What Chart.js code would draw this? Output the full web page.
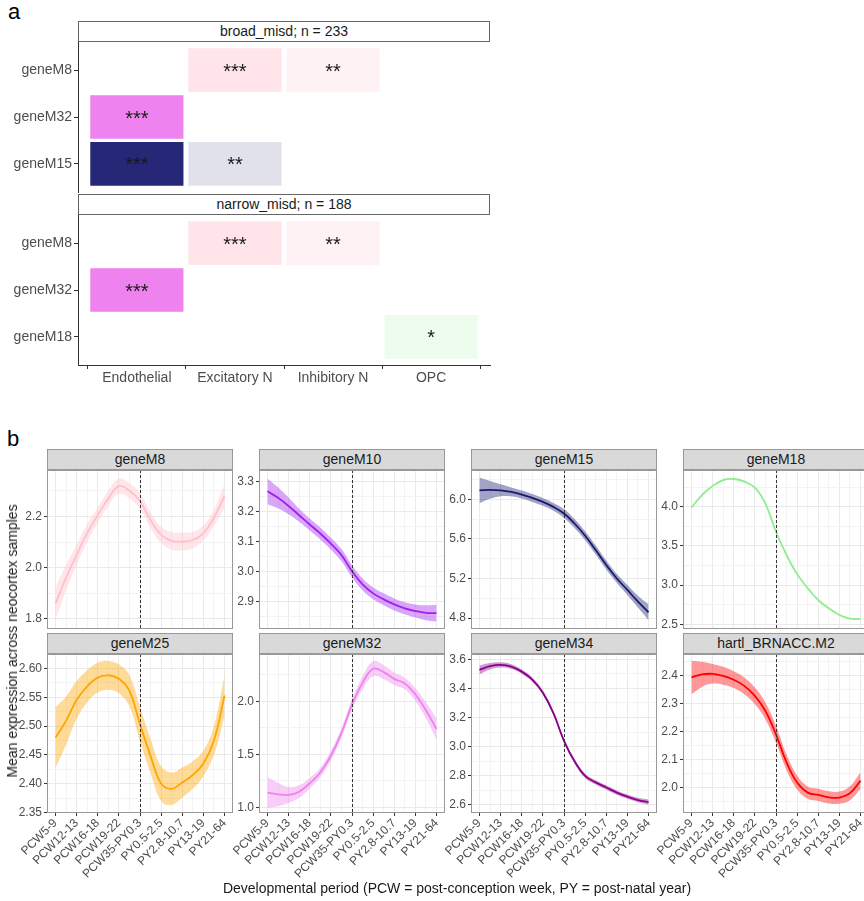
<!DOCTYPE html>
<html>
<head>
<meta charset="utf-8">
<script src="https://cdn.jsdelivr.net/npm/chart.js@4.4.1/dist/chart.umd.min.js"></script>
<style>
  body { margin: 0; width: 864px; height: 901px; overflow: hidden; background: #fff; position: relative;
         font-family: "Liberation Sans", Arial, sans-serif; }
  canvas, .strip, .txt { position: absolute; }
  .strip { box-sizing: border-box; text-align: center; font-size: 14px; color: #1A1A1A; }
  .txt { white-space: nowrap; color: #1A1A1A; }
</style>
</head>
<body>
<script>
// ---- panel a: enrichment tiles ----
const cellTypes = ['Endothelial', 'Excitatory N', 'Inhibitory N', 'OPC'];

const broadModules = ['geneM8', 'geneM32', 'geneM15'];
const broadRow = [0, 0, 1, 2, 2];
const broadCol = [1, 2, 0, 0, 1];
const broadStars = ['***', '**', '***', '***', '**'];
const broadEffect = [0.42, 0.2, 1, 0.94, 0.13];

const narrowModules = ['geneM8', 'geneM32', 'geneM18'];
const narrowRow = [0, 0, 1, 2];
const narrowCol = [1, 2, 0, 3];
const narrowStars = ['***', '**', '***', '*'];
const narrowEffect = [0.42, 0.2, 1, 0.15];

// ---- panel b: developmental trajectories ----
const periods = ['PCW5-9', 'PCW12-13', 'PCW16-18', 'PCW19-22', 'PCW35-PY0.3',
                 'PY0.5-2.5', 'PY2.8-10.7', 'PY13-19', 'PY21-64'];
const birthAt = 4;
const periodPos = [0, 0.5, 1, 1.5, 2, 2.5, 3, 3.5, 4, 4.5, 5, 5.5, 6, 6.5, 7, 7.5, 8];

const geneM8Mean = [1.86, 1.96, 2.05, 2.135, 2.205, 2.27, 2.318, 2.30, 2.26, 2.185, 2.128, 2.105, 2.102, 2.108, 2.135, 2.195, 2.28];
const geneM8Ci   = [0.065, 0.05, 0.04, 0.035, 0.03, 0.03, 0.03, 0.03, 0.03, 0.03, 0.032, 0.035, 0.035, 0.032, 0.03, 0.032, 0.045];
const geneM8Ticks = ['1.8', '2.0', '2.2'];
const geneM8Minor = [1.9, 2.1, 2.3];

const geneM10Mean = [3.269, 3.247, 3.22, 3.189, 3.158, 3.128, 3.094, 3.056, 3.002, 2.958, 2.928, 2.908, 2.891, 2.878, 2.869, 2.863, 2.862];
const geneM10Ci   = [0.043, 0.035, 0.028, 0.022, 0.02, 0.02, 0.02, 0.02, 0.02, 0.02, 0.02, 0.02, 0.02, 0.02, 0.022, 0.025, 0.028];
const geneM10Ticks = ['2.9', '3.0', '3.1', '3.2', '3.3'];
const geneM10Minor = [2.85, 2.95, 3.05, 3.15, 3.25];

const geneM15Mean = [6.09, 6.094, 6.09, 6.074, 6.047, 6.013, 5.973, 5.923, 5.856, 5.755, 5.631, 5.487, 5.336, 5.2, 5.084, 4.966, 4.859];
const geneM15Ci   = [0.13, 0.09, 0.06, 0.045, 0.04, 0.04, 0.04, 0.04, 0.045, 0.045, 0.045, 0.045, 0.045, 0.045, 0.05, 0.06, 0.08];
const geneM15Ticks = ['4.8', '5.2', '5.6', '6.0'];
const geneM15Minor = [5.0, 5.4, 5.8, 6.2];

const geneM18Mean = [3.99, 4.149, 4.263, 4.34, 4.353, 4.32, 4.242, 4.04, 3.68, 3.384, 3.14, 2.96, 2.81, 2.704, 2.619, 2.572, 2.568];
const geneM18Ci   = [0.012, 0.012, 0.012, 0.012, 0.012, 0.012, 0.012, 0.012, 0.012, 0.012, 0.012, 0.012, 0.012, 0.012, 0.012, 0.012, 0.012];
const geneM18Ticks = ['2.5', '3.0', '3.5', '4.0'];
const geneM18Minor = [2.75, 3.25, 3.75, 4.25];

const geneM25Mean = [2.48, 2.509, 2.545, 2.569, 2.584, 2.588, 2.582, 2.561, 2.503, 2.448, 2.40, 2.391, 2.402, 2.415, 2.435, 2.475, 2.553];
const geneM25Ci   = [0.053, 0.042, 0.033, 0.028, 0.026, 0.025, 0.025, 0.027, 0.03, 0.03, 0.03, 0.028, 0.026, 0.024, 0.022, 0.025, 0.035];
const geneM25Ticks = ['2.35', '2.40', '2.45', '2.50', '2.55', '2.60'];
const geneM25Minor = [2.375, 2.425, 2.475, 2.525, 2.575];

const geneM32Mean = [1.139, 1.123, 1.117, 1.148, 1.227, 1.328, 1.486, 1.70, 1.968, 2.173, 2.306, 2.274, 2.211, 2.167, 2.063, 1.915, 1.738];
const geneM32Ci   = [0.145, 0.11, 0.075, 0.06, 0.05, 0.045, 0.045, 0.045, 0.05, 0.06, 0.07, 0.065, 0.06, 0.055, 0.06, 0.075, 0.1];
const geneM32Ticks = ['1.0', '1.5', '2.0'];
const geneM32Minor = [1.25, 1.75, 2.25];

const geneM34Mean = [3.527, 3.552, 3.561, 3.55, 3.515, 3.46, 3.37, 3.23, 3.04, 2.9, 2.8, 2.755, 2.72, 2.685, 2.657, 2.634, 2.62];
const geneM34Ci   = [0.03, 0.022, 0.018, 0.016, 0.015, 0.015, 0.015, 0.015, 0.015, 0.015, 0.015, 0.015, 0.015, 0.015, 0.015, 0.015, 0.018];
const geneM34Ticks = ['2.6', '2.8', '3.0', '3.2', '3.4', '3.6'];
const geneM34Minor = [2.7, 2.9, 3.1, 3.3, 3.5];

const hartlMean = [2.394, 2.405, 2.407, 2.40, 2.386, 2.364, 2.328, 2.274, 2.19, 2.09, 2.018, 1.982, 1.974, 1.965, 1.964, 1.98, 2.025];
const hartlCi   = [0.06, 0.045, 0.035, 0.032, 0.03, 0.03, 0.03, 0.03, 0.03, 0.028, 0.025, 0.022, 0.022, 0.022, 0.022, 0.025, 0.03];
const hartlTicks = ['2.0', '2.1', '2.2', '2.3', '2.4'];
const hartlMinor = [1.95, 2.05, 2.15, 2.25, 2.35, 2.45];

// module colours (style)
const moduleColors = {
    geneM8: '#FFC0CB', geneM10: '#A020F0', geneM15: '#191970', geneM18: '#90EE90',
    geneM25: '#FFA500', geneM32: '#EE82EE', geneM34: '#8B008B', 'hartl_BRNACC.M2': '#FF0000'
};

const FONT = '"Liberation Sans", Arial, sans-serif';

const rgba = (hex, a) => {
    const n = parseInt(hex.slice(1), 16);
    return `rgba(${(n >> 16) & 255}, ${(n >> 8) & 255}, ${n & 255}, ${a})`;
};

const addDiv = (cls, text, css) => {
    const d = document.createElement('div');
    d.className = cls;
    d.textContent = text;
    Object.assign(d.style, css);
    document.body.appendChild(d);
    return d;
};

const addCanvas = (left, top, w, h) => {
    const c = document.createElement('canvas');
    c.width = w;
    c.height = h;
    Object.assign(c.style, { left: left + 'px', top: top + 'px', width: w + 'px', height: h + 'px' });
    document.body.appendChild(c);
    return c;
};

// keep the plot area exactly where the canvas/padding puts it
const noAutoPad = s => {
    s.paddingTop = 0;
    s.paddingBottom = 0;
    s.paddingLeft = 0;
    s.paddingRight = 0;
};

// ---------------- panel a ----------------
const A_LEFT = 78, A_W = 412, A_H = 150, A_PAD = 8;
const TILE_H = 0.93, TILE_W = 0.95;

const starLabels = {
    id: 'starLabels',
    afterDatasetsDraw(chart, args, opts) {
        const ctx = chart.ctx;
        ctx.save();
        ctx.font = '20px ' + FONT;
        ctx.fillStyle = '#1A1A1A';
        ctx.textAlign = 'center';
        ctx.textBaseline = 'middle';
        chart.getDatasetMeta(0).data.forEach((bar, i) => {
            const p = bar.getProps(['x', 'y', 'base'], true);
            ctx.fillText(opts.stars[i], p.x, (p.y + p.base) / 2 + 2);
        });
        ctx.restore();
    }
};

const drawTiles = (title, modules, rows, cols, stars, effect, stripTop, showX) => {
    addDiv('strip', title, {
        left: A_LEFT + 'px', top: stripTop + 'px', width: A_W + 'px', height: '21px',
        lineHeight: '19px', background: '#fff', border: '1px solid #666'
    });
    const top = stripTop + 21;
    const xh = showX ? 26 : 0;
    const canvas = addCanvas(0, top - A_PAD, A_LEFT + A_W + 1, A_PAD + A_H + xh + A_PAD);
    new Chart(canvas, {
        type: 'bar',
        data: {
            datasets: [{
                data: rows.map((r, i) => ({ x: cols[i], y: [r - TILE_H / 2, r + TILE_H / 2] })),
                backgroundColor: rows.map((r, i) => rgba(moduleColors[modules[r]], effect[i])),
                borderWidth: 0,
                barPercentage: TILE_W,
                categoryPercentage: 1
            }]
        },
        options: {
            responsive: false,
            animation: false,
            events: [],
            layout: { padding: { top: A_PAD, right: 1, left: 0, bottom: A_PAD } },
            plugins: { legend: { display: false }, tooltip: { enabled: false }, starLabels: { stars } },
            scales: {
                x: {
                    type: 'linear', display: showX, min: -0.6, max: 3.6, offset: false,
                    afterBuildTicks: s => { s.ticks = cellTypes.map((_, i) => ({ value: i })); },
                    afterFit: s => { s.height = xh; noAutoPad(s); },
                    ticks: {
                        autoSkip: false, maxRotation: 0, padding: 1, color: '#4D4D4D',
                        font: { size: 14, family: FONT },
                        callback: v => cellTypes[v]
                    },
                    grid: { drawOnChartArea: false, tickLength: 4, tickColor: '#333' },
                    border: { color: '#333', width: 1 }
                },
                y: {
                    type: 'linear', reverse: true, min: -0.6, max: 2.6,
                    afterBuildTicks: s => { s.ticks = modules.map((_, i) => ({ value: i })); },
                    afterFit: s => { s.width = A_LEFT; noAutoPad(s); },
                    ticks: {
                        autoSkip: false, padding: 2, color: '#4D4D4D',
                        font: { size: 14, family: FONT },
                        callback: v => modules[v]
                    },
                    grid: { drawOnChartArea: false, tickLength: 4, tickColor: '#333' },
                    border: { color: '#333', width: 1 }
                }
            }
        },
        plugins: [starLabels]
    });
};

addDiv('txt', 'a', { left: '8px', top: '1px', fontSize: '22px', lineHeight: '22px', color: '#000' });
drawTiles('broad_misd; n = 233', broadModules, broadRow, broadCol, broadStars, broadEffect, 21, false);
drawTiles('narrow_misd; n = 188', narrowModules, narrowRow, narrowCol, narrowStars, narrowEffect, 194, true);

// ---------------- panel b ----------------
const COL_X = [47, 259, 471, 683];
const ROW_Y = [470, 654];
const PLOT_W = 186, PLOT_H = 159, Y_W = 36, X_H = 68, STRIP_H = 21, B_PAD = 7;

const panels = [
    { name: 'geneM8', mean: geneM8Mean, ci: geneM8Ci, ticks: geneM8Ticks, minor: geneM8Minor, ymin: 1.761, ymax: 2.381 },
    { name: 'geneM10', mean: geneM10Mean, ci: geneM10Ci, ticks: geneM10Ticks, minor: geneM10Minor, ymin: 2.809, ymax: 3.34 },
    { name: 'geneM15', mean: geneM15Mean, ci: geneM15Ci, ticks: geneM15Ticks, minor: geneM15Minor, ymin: 4.69, ymax: 6.295 },
    { name: 'geneM18', mean: geneM18Mean, ci: geneM18Ci, ticks: geneM18Ticks, minor: geneM18Minor, ymin: 2.44, ymax: 4.468 },
    { name: 'geneM25', mean: geneM25Mean, ci: geneM25Ci, ticks: geneM25Ticks, minor: geneM25Minor, ymin: 2.349, ymax: 2.625 },
    { name: 'geneM32', mean: geneM32Mean, ci: geneM32Ci, ticks: geneM32Ticks, minor: geneM32Minor, ymin: 0.947, ymax: 2.445 },
    { name: 'geneM34', mean: geneM34Mean, ci: geneM34Ci, ticks: geneM34Ticks, minor: geneM34Minor, ymin: 2.545, ymax: 3.636 },
    { name: 'hartl_BRNACC.M2', mean: hartlMean, ci: hartlCi, ticks: hartlTicks, minor: hartlMinor, ymin: 1.909, ymax: 2.478 }
];

const panelFrame = {
    id: 'panelFrame',
    afterDatasetsDraw(chart) {
        const { ctx, chartArea: a, scales: { x } } = chart;
        ctx.save();
        const px = Math.round(x.getPixelForValue(birthAt)) + 0.5;
        ctx.strokeStyle = '#333';
        ctx.lineWidth = 1;
        ctx.setLineDash([3, 2]);
        ctx.beginPath();
        ctx.moveTo(px, a.top);
        ctx.lineTo(px, a.bottom);
        ctx.stroke();
        ctx.setLineDash([]);
        ctx.strokeStyle = '#999';
        ctx.strokeRect(a.left + 0.5, a.top + 0.5, a.width - 1, a.height - 1);
        ctx.restore();
    }
};

const gridColor = c => (c.tick && c.tick.minor ? '#F3F3F3' : '#EAEAEA');
const tickColor = c => (c.tick && c.tick.minor ? 'rgba(0,0,0,0)' : '#333');

const drawSmooth = (p, col, row) => {
    const bottom = row === 1;
    const plotLeft = COL_X[col], plotTop = ROW_Y[row];
    addDiv('strip', p.name, {
        left: plotLeft + 'px', top: (plotTop - STRIP_H) + 'px', width: PLOT_W + 'px', height: STRIP_H + 'px',
        lineHeight: '19px', background: '#D9D9D9', border: '1px solid #999'
    });
    const padBottom = bottom ? 0 : B_PAD;
    const canvas = addCanvas(plotLeft - Y_W, plotTop - B_PAD, Y_W + PLOT_W + 1,
                             B_PAD + PLOT_H + (bottom ? X_H : 0) + padBottom);
    const pts = vals => periodPos.map((x, i) => ({ x, y: vals[i] }));
    const color = moduleColors[p.name];
    const majorY = p.ticks.map(Number);
    new Chart(canvas, {
        type: 'line',
        data: {
            datasets: [
                { data: pts(p.mean.map((m, i) => m - p.ci[i])), borderWidth: 0, pointRadius: 0, fill: false, tension: 0.4 },
                { data: pts(p.mean.map((m, i) => m + p.ci[i])), borderWidth: 0, pointRadius: 0, fill: '-1',
                  backgroundColor: rgba(color, 0.4), tension: 0.4 },
                { data: pts(p.mean), borderColor: color, borderWidth: 1.8, pointRadius: 0, fill: false, tension: 0.4 }
            ]
        },
        options: {
            responsive: false,
            animation: false,
            events: [],
            layout: { padding: { top: B_PAD, right: 1, left: 0, bottom: padBottom } },
            plugins: { legend: { display: false }, tooltip: { enabled: false } },
            scales: {
                x: {
                    type: 'linear', min: -0.4, max: 8.4,
                    afterBuildTicks: s => {
                        const t = periods.map((_, i) => ({ value: i }));
                        for (let i = 0; i < periods.length - 1; i++) t.push({ value: i + 0.5, minor: true });
                        s.ticks = t.sort((a, b) => a.value - b.value);
                    },
                    afterFit: s => { s.height = bottom ? X_H : 0; noAutoPad(s); },
                    ticks: {
                        display: bottom, autoSkip: false, minRotation: 45, maxRotation: 45, padding: 0,
                        color: '#4D4D4D', font: { size: 12, family: FONT },
                        callback: (v, i, t) => (t[i].minor ? '' : periods[Math.round(v)])
                    },
                    grid: { color: gridColor, lineWidth: 1, drawTicks: bottom, tickLength: 3, tickColor },
                    border: { display: false }
                },
                y: {
                    type: 'linear', min: p.ymin, max: p.ymax,
                    afterBuildTicks: s => {
                        const t = majorY.map(v => ({ value: v })).concat(p.minor.map(v => ({ value: v, minor: true })));
                        s.ticks = t.filter(k => k.value >= p.ymin && k.value <= p.ymax).sort((a, b) => a.value - b.value);
                    },
                    afterFit: s => { s.width = Y_W; noAutoPad(s); },
                    ticks: {
                        autoSkip: false, padding: 2, color: '#4D4D4D',
                        font: { size: 12, family: FONT },
                        callback: (v, i, t) => (t[i].minor ? '' : p.ticks[majorY.indexOf(v)])
                    },
                    grid: { color: gridColor, lineWidth: 1, tickLength: 3, tickColor },
                    border: { display: false }
                }
            }
        },
        plugins: [panelFrame]
    });
};

addDiv('txt', 'b', { left: '7px', top: '428px', fontSize: '22px', lineHeight: '22px', color: '#000' });
panels.forEach((p, i) => drawSmooth(p, i % 4, Math.floor(i / 4)));

addDiv('txt', 'Mean expression across neocortex samples', {
    left: '12px', top: '641px', fontSize: '14px', transform: 'translate(-50%, -50%) rotate(-90deg)'
});
addDiv('txt', 'Developmental period (PCW = post-conception week, PY = post-natal year)', {
    left: '457px', top: '888px', fontSize: '14px', transform: 'translate(-50%, -50%)'
});
</script>
</body>
</html>
